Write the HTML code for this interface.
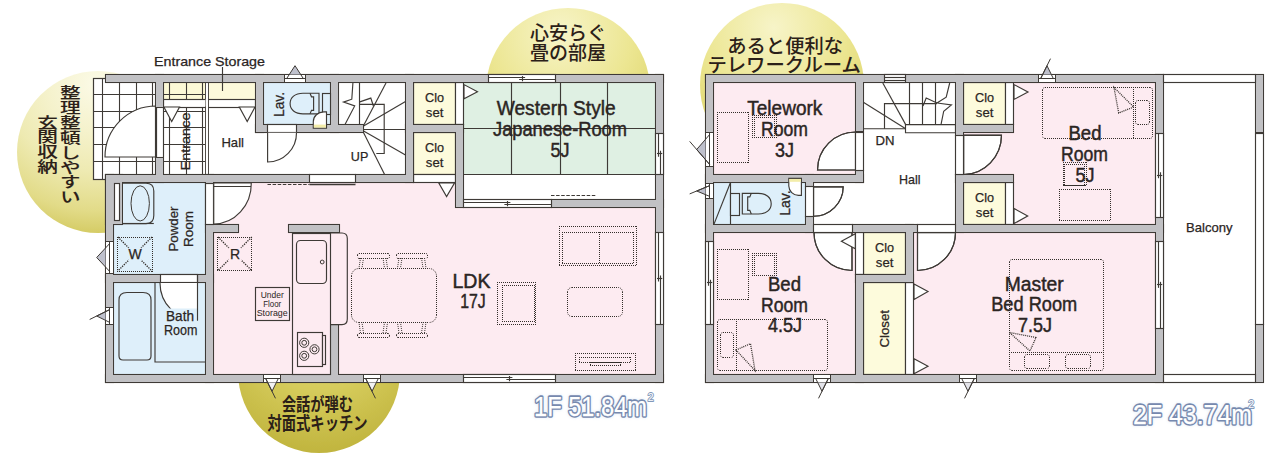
<!DOCTYPE html>
<html lang="ja"><head><meta charset="utf-8"><title>Floor plan 1F 2F</title>
<style>
html,body{margin:0;padding:0;background:#fff;}
body{width:1280px;height:457px;overflow:hidden;}
svg{display:block;}
.lat{font-family:"Liberation Sans","Noto Sans CJK JP",sans-serif;}
.jp{font-family:"Liberation Sans","Noto Sans CJK JP",sans-serif;}
</style></head><body>
<svg width="1280" height="457" viewBox="0 0 1280 457">
<rect width="1280" height="457" fill="#fff"/>
<defs>
<radialGradient id="g1" cx="0.48" cy="0.08" r="0.98"><stop offset="0" stop-color="#fbfae6"/><stop offset="0.3" stop-color="#f5f2cc"/><stop offset="0.55" stop-color="#eeeab2"/><stop offset="0.8" stop-color="#e2db88"/><stop offset="1" stop-color="#cfc556"/></radialGradient>
<radialGradient id="g2" cx="0.45" cy="0.15" r="0.8"><stop offset="0" stop-color="#f7f4c8"/><stop offset="0.55" stop-color="#ece692"/><stop offset="1" stop-color="#dcd366"/></radialGradient>
<radialGradient id="g3" cx="0.5" cy="0.18" r="0.85"><stop offset="0" stop-color="#e4db76"/><stop offset="0.5" stop-color="#d6cc5c"/><stop offset="1" stop-color="#bfb33c"/></radialGradient>
<filter id="soft" x="-10%" y="-10%" width="120%" height="120%"><feGaussianBlur stdDeviation="0.35"/></filter>
<filter id="glow" x="-10%" y="-30%" width="120%" height="160%"><feGaussianBlur stdDeviation="1.6"/></filter>
</defs>
<circle cx="98" cy="152" r="81" fill="url(#g1)" filter="url(#soft)"/>
<circle cx="568" cy="90" r="82" fill="url(#g2)" filter="url(#soft)"/>
<circle cx="782" cy="85" r="82" fill="url(#g2)" filter="url(#soft)"/>
<circle cx="319" cy="372" r="81" fill="url(#g3)" filter="url(#soft)"/>
<rect x="93.00" y="78.00" width="63.00" height="101.00" fill="#fff" />
<rect x="106.00" y="75.00" width="557.00" height="307.00" fill="#fff" />
<line x1="102.50" y1="78.00" x2="102.50" y2="179.00" stroke="#3e3a36" stroke-width="1.1" />
<line x1="119.50" y1="78.00" x2="119.50" y2="179.00" stroke="#3e3a36" stroke-width="1.1" />
<line x1="136.50" y1="78.00" x2="136.50" y2="179.00" stroke="#3e3a36" stroke-width="1.1" />
<line x1="152.50" y1="78.00" x2="152.50" y2="179.00" stroke="#3e3a36" stroke-width="1.1" />
<line x1="93.00" y1="94.50" x2="156.00" y2="94.50" stroke="#3e3a36" stroke-width="1.1" />
<line x1="93.00" y1="111.50" x2="156.00" y2="111.50" stroke="#3e3a36" stroke-width="1.1" />
<line x1="93.00" y1="127.50" x2="156.00" y2="127.50" stroke="#3e3a36" stroke-width="1.1" />
<line x1="93.00" y1="144.50" x2="156.00" y2="144.50" stroke="#3e3a36" stroke-width="1.1" />
<line x1="93.00" y1="161.50" x2="156.00" y2="161.50" stroke="#3e3a36" stroke-width="1.1" />
<rect x="93.50" y="78.50" width="63.00" height="101.00" fill="none" stroke="#3e3a36" stroke-width="1.2" />
<rect x="163.75" y="82.75" width="41.45" height="91.75" fill="#fff" />
<rect x="163.75" y="82.75" width="41.45" height="16.25" fill="#fcf9d6" />
<rect x="208.30" y="82.75" width="47.20" height="16.25" fill="#fdfadb" />
<line x1="169.50" y1="82.75" x2="169.50" y2="174.50" stroke="#3e3a36" stroke-width="1.1" />
<line x1="186.50" y1="82.75" x2="186.50" y2="174.50" stroke="#3e3a36" stroke-width="1.1" />
<line x1="202.50" y1="82.75" x2="202.50" y2="174.50" stroke="#3e3a36" stroke-width="1.1" />
<line x1="163.75" y1="94.50" x2="205.20" y2="94.50" stroke="#3e3a36" stroke-width="1.1" />
<line x1="163.75" y1="111.50" x2="205.20" y2="111.50" stroke="#3e3a36" stroke-width="1.1" />
<line x1="163.75" y1="127.50" x2="205.20" y2="127.50" stroke="#3e3a36" stroke-width="1.1" />
<line x1="163.75" y1="144.50" x2="205.20" y2="144.50" stroke="#3e3a36" stroke-width="1.1" />
<line x1="163.75" y1="161.50" x2="205.20" y2="161.50" stroke="#3e3a36" stroke-width="1.1" />
<rect x="163.50" y="99.50" width="92.00" height="8.00" fill="#fff" stroke="#3e3a36" stroke-width="1.15" />
<rect x="205.50" y="82.50" width="3.00" height="92.00" fill="#fff" stroke="#3e3a36" stroke-width="0.9" />
<rect x="205.60" y="99.50" width="2.40" height="7.00" fill="#fff" />
<path d="M156 157 L105 157 A51 51 0 0 1 156 106 Z" fill="#fff" stroke="#3e3a36" stroke-width="1.15" />
<line x1="155.50" y1="107.00" x2="155.50" y2="157.00" stroke="#3e3a36" stroke-width="1.15" />
<line x1="163.50" y1="107.00" x2="163.50" y2="157.00" stroke="#3e3a36" stroke-width="1.15" />
<path d="M163.90 107.00 L179.50 107.00 L171.70 121.50 Z" fill="#fff" stroke="#3e3a36" stroke-width="1.15" />
<path d="M239.30 107.00 L255.00 107.00 L247.20 121.50 Z" fill="#fff" stroke="#3e3a36" stroke-width="1.15" />
<rect x="122.00" y="182.75" width="83.50" height="91.75" fill="#deeffa" />
<rect x="113.75" y="182.75" width="9.25" height="91.75" fill="#deeffa" />
<rect x="113.75" y="282.75" width="91.75" height="91.75" fill="#deeffa" />
<rect x="213.75" y="182.75" width="441.75" height="191.75" fill="#fdebf1" />
<rect x="463.75" y="174.00" width="191.75" height="34.00" fill="#fff" />
<rect x="263.75" y="82.75" width="66.75" height="41.75" fill="#deeffa" />
<rect x="463.75" y="82.75" width="191.75" height="91.75" fill="#dff0e3" />
<line x1="511.50" y1="82.75" x2="511.50" y2="174.50" stroke="#3e3a36" stroke-width="1.15" />
<line x1="560.50" y1="82.75" x2="560.50" y2="174.50" stroke="#3e3a36" stroke-width="1.15" />
<line x1="607.50" y1="82.75" x2="607.50" y2="174.50" stroke="#3e3a36" stroke-width="1.15" />
<line x1="463.75" y1="128.50" x2="655.50" y2="128.50" stroke="#3e3a36" stroke-width="1.15" />
<line x1="463.75" y1="174.50" x2="655.50" y2="174.50" stroke="#3e3a36" stroke-width="1.15" />
<rect x="413.50" y="82.50" width="42.00" height="42.00" fill="#fdfbdc" stroke="#3e3a36" stroke-width="1.15" />
<rect x="413.50" y="132.50" width="42.00" height="42.00" fill="#fdfbdc" stroke="#3e3a36" stroke-width="1.15" />
<rect x="455.50" y="82.50" width="8.00" height="42.00" fill="#fff" stroke="#3e3a36" stroke-width="1.15" />
<rect x="413.50" y="174.50" width="42.00" height="8.00" fill="#fff" stroke="#3e3a36" stroke-width="1.15" />
<path d="M464.00 84.60 L464.00 98.80 L477.50 91.70 Z" fill="#fff" stroke="#3e3a36" stroke-width="1.15" />
<path d="M438.80 183.00 L454.50 183.00 L446.60 196.50 Z" fill="#fff" stroke="#3e3a36" stroke-width="1.15" />
<rect x="105.5" y="74.5" width="558" height="8" fill="#c1c1c4" stroke="#3e3a36" stroke-width="1.1"/>
<rect x="105.5" y="174.5" width="8" height="208" fill="#c1c1c4" stroke="#3e3a36" stroke-width="1.1"/>
<rect x="105.5" y="174.5" width="17" height="50" fill="#c1c1c4" stroke="#3e3a36" stroke-width="1.1"/>
<rect x="155.5" y="74.5" width="8" height="33" fill="#c1c1c4" stroke="#3e3a36" stroke-width="1.1"/>
<rect x="155.5" y="157.5" width="8" height="25" fill="#c1c1c4" stroke="#3e3a36" stroke-width="1.1"/>
<rect x="105.5" y="174.5" width="204" height="8" fill="#c1c1c4" stroke="#3e3a36" stroke-width="1.1"/>
<rect x="355.5" y="174.5" width="58" height="8" fill="#c1c1c4" stroke="#3e3a36" stroke-width="1.1"/>
<rect x="255.5" y="74.5" width="8" height="58" fill="#c1c1c4" stroke="#3e3a36" stroke-width="1.1"/>
<rect x="255.5" y="124.5" width="108" height="8" fill="#c1c1c4" stroke="#3e3a36" stroke-width="1.1"/>
<rect x="330.5" y="74.5" width="8" height="58" fill="#c1c1c4" stroke="#3e3a36" stroke-width="1.1"/>
<rect x="405.5" y="74.5" width="8" height="108" fill="#c1c1c4" stroke="#3e3a36" stroke-width="1.1"/>
<rect x="405.5" y="124.5" width="58" height="8" fill="#c1c1c4" stroke="#3e3a36" stroke-width="1.1"/>
<rect x="455.5" y="124.5" width="8" height="83" fill="#c1c1c4" stroke="#3e3a36" stroke-width="1.1"/>
<rect x="655.5" y="74.5" width="8" height="308" fill="#c1c1c4" stroke="#3e3a36" stroke-width="1.1"/>
<rect x="551.5" y="199.5" width="112" height="8" fill="#c1c1c4" stroke="#3e3a36" stroke-width="1.1"/>
<rect x="105.5" y="374.5" width="558" height="8" fill="#c1c1c4" stroke="#3e3a36" stroke-width="1.1"/>
<rect x="205.5" y="174.5" width="8" height="208" fill="#c1c1c4" stroke="#3e3a36" stroke-width="1.1"/>
<rect x="205.5" y="224.5" width="33" height="8" fill="#c1c1c4" stroke="#3e3a36" stroke-width="1.1"/>
<rect x="105.5" y="274.5" width="108" height="8" fill="#c1c1c4" stroke="#3e3a36" stroke-width="1.1"/>
<rect x="288.5" y="224.5" width="51" height="8" fill="#c1c1c4" stroke="#3e3a36" stroke-width="1.1"/>
<rect x="330.5" y="324.5" width="8" height="58" fill="#c1c1c4" stroke="#3e3a36" stroke-width="1.1"/>
<rect x="106" y="75" width="557" height="7" fill="#c1c1c4"/>
<rect x="106" y="175" width="7" height="207" fill="#c1c1c4"/>
<rect x="106" y="175" width="16" height="49" fill="#c1c1c4"/>
<rect x="156" y="75" width="7" height="32" fill="#c1c1c4"/>
<rect x="156" y="158" width="7" height="24" fill="#c1c1c4"/>
<rect x="106" y="175" width="203" height="7" fill="#c1c1c4"/>
<rect x="356" y="175" width="57" height="7" fill="#c1c1c4"/>
<rect x="256" y="75" width="7" height="57" fill="#c1c1c4"/>
<rect x="256" y="125" width="107" height="7" fill="#c1c1c4"/>
<rect x="331" y="75" width="7" height="57" fill="#c1c1c4"/>
<rect x="406" y="75" width="7" height="107" fill="#c1c1c4"/>
<rect x="406" y="125" width="57" height="7" fill="#c1c1c4"/>
<rect x="456" y="125" width="7" height="82" fill="#c1c1c4"/>
<rect x="656" y="75" width="7" height="307" fill="#c1c1c4"/>
<rect x="552" y="200" width="111" height="7" fill="#c1c1c4"/>
<rect x="106" y="375" width="557" height="7" fill="#c1c1c4"/>
<rect x="206" y="175" width="7" height="207" fill="#c1c1c4"/>
<rect x="206" y="225" width="32" height="7" fill="#c1c1c4"/>
<rect x="106" y="275" width="107" height="7" fill="#c1c1c4"/>
<rect x="289" y="225" width="50" height="7" fill="#c1c1c4"/>
<rect x="331" y="325" width="7" height="57" fill="#c1c1c4"/>
<rect x="309.50" y="174.50" width="46.00" height="8.00" fill="#fff" stroke="#3e3a36" stroke-width="1.15" />
<line x1="267.50" y1="184.50" x2="309.50" y2="184.50" stroke="#3e3a36" stroke-width="1.15" stroke-dasharray="3.5 1.6"/>
<line x1="309.50" y1="184.50" x2="355.50" y2="184.50" stroke="#3e3a36" stroke-width="1.3" />
<rect x="267.50" y="124.50" width="29.00" height="8.00" fill="#fff" stroke="#3e3a36" stroke-width="1.15" />
<path d="M267.6 132.75 L267.6 162 A29 29 0 0 0 296.5 132.75" fill="#fff" stroke="#3e3a36" stroke-width="1.15" />
<rect x="160.50" y="274.50" width="37.00" height="8.00" fill="#fff" stroke="#3e3a36" stroke-width="1.15" />
<rect x="114.50" y="183.50" width="5.00" height="37.00" fill="#fff" stroke="#3e3a36" stroke-width="1.15" />
<g transform="translate(295.00 74.50) rotate(0)"><rect x="-10.50" y="0" width="21.00" height="8" fill="#fff" stroke="#3e3a36" stroke-width="1"/><line x1="-10.50" y1="4.00" x2="10.50" y2="4.00" stroke="#3e3a36" stroke-width="1"/><path d="M-5.71 0 L0 -8.8 L5.71 0 Z" fill="#bfc1cd" stroke="none"/><path d="M-8.30 4.00 L0 -8.8 L8.30 4.00" fill="none" stroke="#3e3a36" stroke-width="1"/></g>
<rect x="488.50" y="74.50" width="67.00" height="8.00" fill="#fff" stroke="#3e3a36" stroke-width="1.15" />
<line x1="488.75" y1="77.50" x2="525.12" y2="77.50" stroke="#3e3a36" stroke-width="1.15" />
<line x1="519.12" y1="79.50" x2="555.50" y2="79.50" stroke="#3e3a36" stroke-width="1.15" />
<line x1="522.50" y1="76.00" x2="522.50" y2="81.25" stroke="#3e3a36" stroke-width="1.15" />
<rect x="463.50" y="199.50" width="88.00" height="8.00" fill="#fff" stroke="#3e3a36" stroke-width="1.15" />
<line x1="463.75" y1="202.50" x2="510.38" y2="202.50" stroke="#3e3a36" stroke-width="1.15" />
<line x1="504.38" y1="204.50" x2="551.00" y2="204.50" stroke="#3e3a36" stroke-width="1.15" />
<line x1="507.50" y1="201.00" x2="507.50" y2="206.25" stroke="#3e3a36" stroke-width="1.15" />
<rect x="463.50" y="374.50" width="92.00" height="8.00" fill="#fff" stroke="#3e3a36" stroke-width="1.15" />
<line x1="463.25" y1="377.50" x2="512.38" y2="377.50" stroke="#3e3a36" stroke-width="1.15" />
<line x1="506.38" y1="379.50" x2="555.50" y2="379.50" stroke="#3e3a36" stroke-width="1.15" />
<line x1="509.50" y1="376.00" x2="509.50" y2="381.25" stroke="#3e3a36" stroke-width="1.15" />
<g transform="translate(272.00 382.50) rotate(180)"><rect x="-8.50" y="0" width="17.00" height="8" fill="#fff" stroke="#3e3a36" stroke-width="1"/><line x1="-8.50" y1="4.00" x2="8.50" y2="4.00" stroke="#3e3a36" stroke-width="1"/><path d="M-4.33 0 L0 -8.8 L4.33 0 Z" fill="#f2f2f2" stroke="none"/><path d="M-6.30 4.00 L0 -8.8 L6.30 4.00" fill="none" stroke="#3e3a36" stroke-width="1"/><line x1="6.30" y1="4.00" x2="-3.47" y2="-15.84" stroke="#3e3a36" stroke-width="1"/></g>
<g transform="translate(372.00 382.50) rotate(180)"><rect x="-8.50" y="0" width="17.00" height="8" fill="#fff" stroke="#3e3a36" stroke-width="1"/><line x1="-8.50" y1="4.00" x2="8.50" y2="4.00" stroke="#3e3a36" stroke-width="1"/><path d="M-4.33 0 L0 -8.8 L4.33 0 Z" fill="#f2f2f2" stroke="none"/><path d="M-6.30 4.00 L0 -8.8 L6.30 4.00" fill="none" stroke="#3e3a36" stroke-width="1"/><line x1="6.30" y1="4.00" x2="-3.47" y2="-15.84" stroke="#3e3a36" stroke-width="1"/></g>
<rect x="655.50" y="133.50" width="8.00" height="41.00" fill="#fff" stroke="#3e3a36" stroke-width="1.15" />
<line x1="658.50" y1="133.00" x2="658.50" y2="156.75" stroke="#3e3a36" stroke-width="1.15" />
<line x1="660.50" y1="150.75" x2="660.50" y2="174.50" stroke="#3e3a36" stroke-width="1.15" />
<line x1="657.00" y1="153.50" x2="662.25" y2="153.50" stroke="#3e3a36" stroke-width="1.15" />
<rect x="655.50" y="232.50" width="8.00" height="92.00" fill="#fff" stroke="#3e3a36" stroke-width="1.15" />
<line x1="658.50" y1="232.50" x2="658.50" y2="281.50" stroke="#3e3a36" stroke-width="1.15" />
<line x1="660.50" y1="275.50" x2="660.50" y2="324.50" stroke="#3e3a36" stroke-width="1.15" />
<line x1="657.00" y1="278.50" x2="662.25" y2="278.50" stroke="#3e3a36" stroke-width="1.15" />
<line x1="551.00" y1="195.50" x2="596.00" y2="195.50" stroke="#3e3a36" stroke-width="1.15" stroke-dasharray="3.5 1.6"/>
<g transform="translate(105.50 257.50) rotate(-90)"><rect x="-16.00" y="0" width="32.00" height="8" fill="#fff" stroke="#3e3a36" stroke-width="1"/><line x1="-16.00" y1="4.00" x2="16.00" y2="4.00" stroke="#3e3a36" stroke-width="1"/><path d="M-9.49 0 L0 -8.8 L9.49 0 Z" fill="#bfc1cd" stroke="none"/><path d="M-13.80 4.00 L0 -8.8 L13.80 4.00" fill="none" stroke="#3e3a36" stroke-width="1"/></g>
<path d="M123 183.2 L146 183.2 Q153.8 183.2 153.8 191 L153.8 215.5 Q153.8 223.6 146 223.6 L123 223.6" fill="#deeffa" stroke="#3e3a36" stroke-width="1.15" />
<ellipse cx="140.2" cy="203.4" rx="9.2" ry="17.6" fill="#deeffa" stroke="#3e3a36" stroke-width="1"/>
<line x1="122.50" y1="223.50" x2="153.80" y2="223.50" stroke="#3e3a36" stroke-width="1.15" />
<line x1="117" y1="237.5" x2="153" y2="237.5" stroke="#332e2a" stroke-width="1" stroke-dasharray="1 1"/>
<line x1="117" y1="271.5" x2="153" y2="271.5" stroke="#332e2a" stroke-width="1" stroke-dasharray="1 1"/>
<line x1="117.5" y1="237" x2="117.5" y2="272" stroke="#332e2a" stroke-width="1" stroke-dasharray="1 1"/>
<line x1="152.5" y1="237" x2="152.5" y2="272" stroke="#332e2a" stroke-width="1" stroke-dasharray="1 1"/>
<path d="M117.8 237 L152 271 M152 237 L117.8 271" stroke="#332e2a" stroke-width="1.35" stroke-dasharray="1.3 1.1" fill="none"/>
<line x1="217" y1="237.5" x2="252" y2="237.5" stroke="#332e2a" stroke-width="1" stroke-dasharray="1 1"/>
<line x1="217" y1="270.5" x2="252" y2="270.5" stroke="#332e2a" stroke-width="1" stroke-dasharray="1 1"/>
<line x1="217.5" y1="237" x2="217.5" y2="271" stroke="#332e2a" stroke-width="1" stroke-dasharray="1 1"/>
<line x1="251.5" y1="237" x2="251.5" y2="271" stroke="#332e2a" stroke-width="1" stroke-dasharray="1 1"/>
<path d="M217.9 237 L251.8 270.6 M251.8 237 L217.9 270.6" stroke="#332e2a" stroke-width="1.35" stroke-dasharray="1.3 1.1" fill="none"/>
<rect x="128.50" y="247.50" width="13.00" height="13.50" fill="#deeffa" />
<rect x="228.50" y="247.50" width="13.00" height="13.50" fill="#fdebf1" />
<text class="lat" x="135.00" y="259.30" font-size="14" text-anchor="middle" fill="#2b2523" stroke="#2b2523" stroke-width="0.25" >W</text>
<text class="lat" x="235.00" y="259.30" font-size="14" text-anchor="middle" fill="#2b2523" stroke="#2b2523" stroke-width="0.25" >R</text>
<text class="lat" x="178.30" y="229.00" font-size="13.5" text-anchor="middle" fill="#2b2523" stroke="#2b2523" stroke-width="0.25" textLength="45.00" lengthAdjust="spacingAndGlyphs" transform="rotate(-90 178.30 229.00)" >Powder</text>
<text class="lat" x="193.00" y="229.00" font-size="13.5" text-anchor="middle" fill="#2b2523" stroke="#2b2523" stroke-width="0.25" textLength="36.00" lengthAdjust="spacingAndGlyphs" transform="rotate(-90 193.00 229.00)" >Room</text>
<rect x="205.50" y="183.50" width="8.00" height="41.00" fill="#fff" stroke="#3e3a36" stroke-width="1.15" />
<path d="M213.75 183 L251.3 183 A37.5 40.5 0 0 1 213.75 224 Z" fill="#fff" stroke="#3e3a36" stroke-width="1.15" />
<line x1="213.75" y1="186.50" x2="251.00" y2="186.50" stroke="#3e3a36" stroke-width="1.15" />
<path d="M119 300 Q119 292.5 127 292.5 L143 292.5 Q151 292.5 151 300 L151 356 Q151 360 147 360 L123 360 Q119 360 119 356 Z" fill="#deeffa" stroke="#3e3a36" stroke-width="1.15" />
<path d="M155 282.75 L155 362 L205.5 362" fill="none" stroke="#3e3a36" stroke-width="1.15" />
<line x1="114.00" y1="282.50" x2="205.50" y2="282.50" stroke="#3e3a36" stroke-width="1.15" />
<path d="M197.5 282.9 L160 282.9 A37.5 37.5 0 0 0 197.5 320.4 Z" fill="#fff" stroke="none" stroke-width="1.15" />
<path d="M160 282.9 A37.5 37.5 0 0 0 197.5 320.4" fill="none" stroke="#3e3a36" stroke-width="1.15" />
<rect x="163.50" y="308.50" width="33.50" height="13.00" fill="#deeffa" />
<line x1="197.50" y1="275.00" x2="197.50" y2="320.50" stroke="#3e3a36" stroke-width="1.15" />
<g transform="translate(105.50 316.00) rotate(-90)"><rect x="-8.50" y="0" width="17.00" height="8" fill="#fff" stroke="#3e3a36" stroke-width="1"/><line x1="-8.50" y1="4.00" x2="8.50" y2="4.00" stroke="#3e3a36" stroke-width="1"/><path d="M-4.33 0 L0 -8.8 L4.33 0 Z" fill="#bfc1cd" stroke="none"/><path d="M-6.30 4.00 L0 -8.8 L6.30 4.00" fill="none" stroke="#3e3a36" stroke-width="1"/><line x1="6.30" y1="4.00" x2="-3.47" y2="-15.84" stroke="#3e3a36" stroke-width="1"/></g>
<text class="lat" x="180.00" y="320.50" font-size="14.5" text-anchor="middle" fill="#2b2523" stroke="#2b2523" stroke-width="0.25" textLength="28.00" lengthAdjust="spacingAndGlyphs" >Bath</text>
<text class="lat" x="180.80" y="335.20" font-size="14.5" text-anchor="middle" fill="#2b2523" stroke="#2b2523" stroke-width="0.25" textLength="33.50" lengthAdjust="spacingAndGlyphs" >Room</text>
<rect x="255.50" y="287.50" width="34.00" height="33.00" fill="#fdebf1" stroke="#3e3a36" stroke-width="1.15" />
<text class="lat" x="272.20" y="297.60" font-size="8.6" text-anchor="middle" fill="#2b2523" textLength="23.00" lengthAdjust="spacingAndGlyphs" >Under</text>
<text class="lat" x="272.20" y="306.80" font-size="8.6" text-anchor="middle" fill="#2b2523" textLength="18.00" lengthAdjust="spacingAndGlyphs" >Floor</text>
<text class="lat" x="272.20" y="316.20" font-size="8.6" text-anchor="middle" fill="#2b2523" textLength="31.00" lengthAdjust="spacingAndGlyphs" >Storage</text>
<path d="M330.5 233 L342 233 Q347.3 233 347.3 238.5 L347.3 319 Q347.3 324.6 342 324.6 L330.5 324.6" fill="#fdebf1" stroke="#3e3a36" stroke-width="1.15" />
<rect x="292.50" y="233.50" width="38.00" height="141.00" fill="#fdebf1" stroke="#3e3a36" stroke-width="1.15" />
<rect x="296.50" y="240.50" width="30.00" height="43.00" fill="#fdebf1" stroke="#3e3a36" stroke-width="1.15" rx="4"/>
<circle cx="322.2" cy="262" r="1.9" fill="#fdebf1" stroke="#3e3a36" stroke-width="1"/>
<rect x="297.50" y="332.50" width="25.00" height="34.00" fill="#fdebf1" stroke="#3e3a36" stroke-width="1.15" />
<rect x="322.50" y="335.50" width="3.00" height="29.00" fill="#fdebf1" stroke="#3e3a36" stroke-width="1.15" />
<circle cx="304.2" cy="342.8" r="4.6" fill="none" stroke="#3e3a36" stroke-width="1"/>
<circle cx="304.2" cy="342.8" r="2.4" fill="none" stroke="#3e3a36" stroke-width="1"/>
<circle cx="314.5" cy="349.3" r="4.6" fill="none" stroke="#3e3a36" stroke-width="1"/>
<circle cx="314.5" cy="349.3" r="2.4" fill="none" stroke="#3e3a36" stroke-width="1"/>
<circle cx="304.2" cy="355.8" r="4.6" fill="none" stroke="#3e3a36" stroke-width="1"/>
<circle cx="304.2" cy="355.8" r="2.4" fill="none" stroke="#3e3a36" stroke-width="1"/>
<line x1="359" y1="268.5" x2="429" y2="268.5" stroke="#332e2a" stroke-width="1" stroke-dasharray="1 1"/>
<line x1="359" y1="322.5" x2="429" y2="322.5" stroke="#332e2a" stroke-width="1" stroke-dasharray="1 1"/>
<line x1="351.5" y1="276" x2="351.5" y2="315" stroke="#332e2a" stroke-width="1" stroke-dasharray="1 1"/>
<line x1="436.5" y1="276" x2="436.5" y2="315" stroke="#332e2a" stroke-width="1" stroke-dasharray="1 1"/>
<path d="M351.5 276 A7.5 7.5 0 0 1 359 268.5 M429 268.5 A7.5 7.5 0 0 1 436.5 276 M436.5 315 A7.5 7.5 0 0 1 429 322.5 M359 322.5 A7.5 7.5 0 0 1 351.5 315" fill="none" stroke="#332e2a" stroke-width="1" stroke-dasharray="1 1"/>
<line x1="359" y1="253.5" x2="388" y2="253.5" stroke="#332e2a" stroke-width="1" stroke-dasharray="1 1"/>
<line x1="359" y1="258.5" x2="388" y2="258.5" stroke="#332e2a" stroke-width="1" stroke-dasharray="1 1"/>
<line x1="357.5" y1="255" x2="357.5" y2="257" stroke="#332e2a" stroke-width="1" stroke-dasharray="1 1"/>
<line x1="389.5" y1="255" x2="389.5" y2="257" stroke="#332e2a" stroke-width="1" stroke-dasharray="1 1"/>
<path d="M357.5 255 A1.5 1.5 0 0 1 359 253.5 M388 253.5 A1.5 1.5 0 0 1 389.5 255 M389.5 257 A1.5 1.5 0 0 1 388 258.5 M359 258.5 A1.5 1.5 0 0 1 357.5 257" fill="none" stroke="#332e2a" stroke-width="1" stroke-dasharray="1 1"/>
<path d="M360.5 258.0 L359.0 268 M363.5 258.0 L362.0 268 M386 258.0 L387.5 268 M383 258.0 L384.5 268" stroke="#3e3a36" stroke-width="1" stroke-dasharray="1 1" fill="none"/>
<line x1="398" y1="253.5" x2="426" y2="253.5" stroke="#332e2a" stroke-width="1" stroke-dasharray="1 1"/>
<line x1="398" y1="258.5" x2="426" y2="258.5" stroke="#332e2a" stroke-width="1" stroke-dasharray="1 1"/>
<line x1="396.5" y1="255" x2="396.5" y2="257" stroke="#332e2a" stroke-width="1" stroke-dasharray="1 1"/>
<line x1="427.5" y1="255" x2="427.5" y2="257" stroke="#332e2a" stroke-width="1" stroke-dasharray="1 1"/>
<path d="M396.5 255 A1.5 1.5 0 0 1 398 253.5 M426 253.5 A1.5 1.5 0 0 1 427.5 255 M427.5 257 A1.5 1.5 0 0 1 426 258.5 M398 258.5 A1.5 1.5 0 0 1 396.5 257" fill="none" stroke="#332e2a" stroke-width="1" stroke-dasharray="1 1"/>
<path d="M399 258.0 L397.5 268 M402 258.0 L400.5 268 M424.5 258.0 L426.0 268 M421.5 258.0 L423.0 268" stroke="#3e3a36" stroke-width="1" stroke-dasharray="1 1" fill="none"/>
<line x1="359" y1="333.5" x2="388" y2="333.5" stroke="#332e2a" stroke-width="1" stroke-dasharray="1 1"/>
<line x1="359" y1="337.5" x2="388" y2="337.5" stroke="#332e2a" stroke-width="1" stroke-dasharray="1 1"/>
<line x1="357.5" y1="335" x2="357.5" y2="336" stroke="#332e2a" stroke-width="1" stroke-dasharray="1 1"/>
<line x1="389.5" y1="335" x2="389.5" y2="336" stroke="#332e2a" stroke-width="1" stroke-dasharray="1 1"/>
<path d="M357.5 335 A1.5 1.5 0 0 1 359 333.5 M388 333.5 A1.5 1.5 0 0 1 389.5 335 M389.5 336 A1.5 1.5 0 0 1 388 337.5 M359 337.5 A1.5 1.5 0 0 1 357.5 336" fill="none" stroke="#332e2a" stroke-width="1" stroke-dasharray="1 1"/>
<path d="M360.5 333.0 L359.0 322.5 M363.5 333.0 L362.0 322.5 M386 333.0 L387.5 322.5 M383 333.0 L384.5 322.5" stroke="#3e3a36" stroke-width="1" stroke-dasharray="1 1" fill="none"/>
<line x1="398" y1="333.5" x2="426" y2="333.5" stroke="#332e2a" stroke-width="1" stroke-dasharray="1 1"/>
<line x1="398" y1="337.5" x2="426" y2="337.5" stroke="#332e2a" stroke-width="1" stroke-dasharray="1 1"/>
<line x1="396.5" y1="335" x2="396.5" y2="336" stroke="#332e2a" stroke-width="1" stroke-dasharray="1 1"/>
<line x1="427.5" y1="335" x2="427.5" y2="336" stroke="#332e2a" stroke-width="1" stroke-dasharray="1 1"/>
<path d="M396.5 335 A1.5 1.5 0 0 1 398 333.5 M426 333.5 A1.5 1.5 0 0 1 427.5 335 M427.5 336 A1.5 1.5 0 0 1 426 337.5 M398 337.5 A1.5 1.5 0 0 1 396.5 336" fill="none" stroke="#332e2a" stroke-width="1" stroke-dasharray="1 1"/>
<path d="M399 333.0 L397.5 322.5 M402 333.0 L400.5 322.5 M424.5 333.0 L426.0 322.5 M421.5 333.0 L423.0 322.5" stroke="#3e3a36" stroke-width="1" stroke-dasharray="1 1" fill="none"/>
<line x1="559" y1="226.5" x2="637" y2="226.5" stroke="#332e2a" stroke-width="1" stroke-dasharray="1 1"/>
<line x1="559" y1="265.5" x2="637" y2="265.5" stroke="#332e2a" stroke-width="1" stroke-dasharray="1 1"/>
<line x1="559.5" y1="226" x2="559.5" y2="266" stroke="#332e2a" stroke-width="1" stroke-dasharray="1 1"/>
<line x1="636.5" y1="226" x2="636.5" y2="266" stroke="#332e2a" stroke-width="1" stroke-dasharray="1 1"/>
<line x1="562" y1="232.5" x2="634" y2="232.5" stroke="#332e2a" stroke-width="1" stroke-dasharray="1 1"/>
<line x1="562" y1="263.5" x2="634" y2="263.5" stroke="#332e2a" stroke-width="1" stroke-dasharray="1 1"/>
<line x1="562.5" y1="232" x2="562.5" y2="264" stroke="#332e2a" stroke-width="1" stroke-dasharray="1 1"/>
<line x1="633.5" y1="232" x2="633.5" y2="264" stroke="#332e2a" stroke-width="1" stroke-dasharray="1 1"/>
<line x1="599.5" y1="232" x2="599.5" y2="264" stroke="#332e2a" stroke-width="1" stroke-dasharray="1 1"/>
<line x1="572" y1="287.5" x2="618" y2="287.5" stroke="#332e2a" stroke-width="1" stroke-dasharray="1 1"/>
<line x1="572" y1="316.5" x2="618" y2="316.5" stroke="#332e2a" stroke-width="1" stroke-dasharray="1 1"/>
<line x1="567.5" y1="292" x2="567.5" y2="312" stroke="#332e2a" stroke-width="1" stroke-dasharray="1 1"/>
<line x1="622.5" y1="292" x2="622.5" y2="312" stroke="#332e2a" stroke-width="1" stroke-dasharray="1 1"/>
<path d="M567.5 292 A4.5 4.5 0 0 1 572 287.5 M618 287.5 A4.5 4.5 0 0 1 622.5 292 M622.5 312 A4.5 4.5 0 0 1 618 316.5 M572 316.5 A4.5 4.5 0 0 1 567.5 312" fill="none" stroke="#332e2a" stroke-width="1" stroke-dasharray="1 1"/>
<line x1="497" y1="282.5" x2="536" y2="282.5" stroke="#332e2a" stroke-width="1" stroke-dasharray="1 1"/>
<line x1="497" y1="324.5" x2="536" y2="324.5" stroke="#332e2a" stroke-width="1" stroke-dasharray="1 1"/>
<line x1="497.5" y1="282" x2="497.5" y2="325" stroke="#332e2a" stroke-width="1" stroke-dasharray="1 1"/>
<line x1="535.5" y1="282" x2="535.5" y2="325" stroke="#332e2a" stroke-width="1" stroke-dasharray="1 1"/>
<line x1="502" y1="285.5" x2="535" y2="285.5" stroke="#332e2a" stroke-width="1" stroke-dasharray="1 1"/>
<line x1="502" y1="321.5" x2="535" y2="321.5" stroke="#332e2a" stroke-width="1" stroke-dasharray="1 1"/>
<line x1="502.5" y1="285" x2="502.5" y2="322" stroke="#332e2a" stroke-width="1" stroke-dasharray="1 1"/>
<line x1="534.5" y1="285" x2="534.5" y2="322" stroke="#332e2a" stroke-width="1" stroke-dasharray="1 1"/>
<line x1="575" y1="353.5" x2="636" y2="353.5" stroke="#332e2a" stroke-width="1" stroke-dasharray="1 1"/>
<line x1="575" y1="370.5" x2="636" y2="370.5" stroke="#332e2a" stroke-width="1" stroke-dasharray="1 1"/>
<line x1="575.5" y1="353" x2="575.5" y2="371" stroke="#332e2a" stroke-width="1" stroke-dasharray="1 1"/>
<line x1="635.5" y1="353" x2="635.5" y2="371" stroke="#332e2a" stroke-width="1" stroke-dasharray="1 1"/>
<line x1="579" y1="357.5" x2="631" y2="357.5" stroke="#332e2a" stroke-width="1" stroke-dasharray="1 1"/>
<line x1="579" y1="362.5" x2="631" y2="362.5" stroke="#332e2a" stroke-width="1" stroke-dasharray="1 1"/>
<line x1="579.5" y1="357" x2="579.5" y2="363" stroke="#332e2a" stroke-width="1" stroke-dasharray="1 1"/>
<line x1="630.5" y1="357" x2="630.5" y2="363" stroke="#332e2a" stroke-width="1" stroke-dasharray="1 1"/>
<line x1="590" y1="362.5" x2="621" y2="362.5" stroke="#332e2a" stroke-width="1" stroke-dasharray="1 1"/>
<line x1="590" y1="365.5" x2="621" y2="365.5" stroke="#332e2a" stroke-width="1" stroke-dasharray="1 1"/>
<line x1="590.5" y1="362" x2="590.5" y2="366" stroke="#332e2a" stroke-width="1" stroke-dasharray="1 1"/>
<line x1="620.5" y1="362" x2="620.5" y2="366" stroke="#332e2a" stroke-width="1" stroke-dasharray="1 1"/>
<text class="lat" x="471.50" y="288.00" font-size="19.5" text-anchor="middle" fill="#2b2523" stroke="#2b2523" stroke-width="0.45" textLength="38.00" lengthAdjust="spacingAndGlyphs" >LDK</text>
<text class="lat" x="473.00" y="308.20" font-size="19.5" text-anchor="middle" fill="#2b2523" stroke="#2b2523" stroke-width="0.45" textLength="25.50" lengthAdjust="spacingAndGlyphs" >17J</text>
<text class="lat" x="556.20" y="114.60" font-size="19.5" text-anchor="middle" fill="#2b2523" stroke="#2b2523" stroke-width="0.45" textLength="119.00" lengthAdjust="spacingAndGlyphs" >Western Style</text>
<text class="lat" x="560.00" y="136.10" font-size="19.5" text-anchor="middle" fill="#2b2523" stroke="#2b2523" stroke-width="0.45" textLength="134.00" lengthAdjust="spacingAndGlyphs" >Japanese-Room</text>
<text class="lat" x="560.00" y="157.30" font-size="19.5" text-anchor="middle" fill="#2b2523" stroke="#2b2523" stroke-width="0.45" textLength="19.00" lengthAdjust="spacingAndGlyphs" >5J</text>
<text class="lat" x="434.60" y="102.00" font-size="13.5" text-anchor="middle" fill="#2b2523" stroke="#2b2523" stroke-width="0.25" textLength="19.00" lengthAdjust="spacingAndGlyphs" >Clo</text>
<text class="lat" x="434.60" y="117.00" font-size="13.5" text-anchor="middle" fill="#2b2523" stroke="#2b2523" stroke-width="0.25" textLength="17.50" lengthAdjust="spacingAndGlyphs" >set</text>
<text class="lat" x="434.60" y="152.00" font-size="13.5" text-anchor="middle" fill="#2b2523" stroke="#2b2523" stroke-width="0.25" textLength="19.00" lengthAdjust="spacingAndGlyphs" >Clo</text>
<text class="lat" x="434.60" y="167.00" font-size="13.5" text-anchor="middle" fill="#2b2523" stroke="#2b2523" stroke-width="0.25" textLength="17.50" lengthAdjust="spacingAndGlyphs" >set</text>
<text class="lat" x="232.70" y="146.80" font-size="13.5" text-anchor="middle" fill="#2b2523" stroke="#2b2523" stroke-width="0.25" textLength="22.50" lengthAdjust="spacingAndGlyphs" >Hall</text>
<text class="lat" x="359.60" y="161.20" font-size="13.5" text-anchor="middle" fill="#2b2523" stroke="#2b2523" stroke-width="0.25" textLength="17.50" lengthAdjust="spacingAndGlyphs" >UP</text>
<text class="lat" x="209.50" y="65.50" font-size="13" text-anchor="middle" fill="#2b2523" stroke="#2b2523" stroke-width="0.25" textLength="111.00" lengthAdjust="spacingAndGlyphs" >Entrance Storage</text>
<line x1="222.50" y1="67.00" x2="222.50" y2="91.00" stroke="#3e3a36" stroke-width="1.15" />
<text class="lat" x="190.30" y="141.50" font-size="13" text-anchor="middle" fill="#2b2523" stroke="#2b2523" stroke-width="0.25" textLength="58.00" lengthAdjust="spacingAndGlyphs" transform="rotate(-90 190.30 141.50)" >Entrance</text>
<text class="lat" x="284.00" y="104.50" font-size="14" text-anchor="middle" fill="#2b2523" stroke="#2b2523" stroke-width="0.25" textLength="25.00" lengthAdjust="spacingAndGlyphs" transform="rotate(-90 284.00 104.50)" >Lav.</text>
<path d="M319.00 93.20 L303.00 93.20 C295.00 93.20 290.10 97.50 290.10 103.55 C290.10 109.60 295.00 113.90 303.00 113.90 L319.00 113.90 Z" fill="#deeffa" stroke="#3e3a36" stroke-width="1.15" />
<path d="M310.00 93.20 L311.50 96.80 L313.60 96.80 L313.60 110.30 L311.50 110.30 L310.00 113.90" fill="none" stroke="#3e3a36" stroke-width="1.15" />
<rect x="322.50" y="93.50" width="8.00" height="21.00" fill="#deeffa" stroke="#3e3a36" stroke-width="1.15" />
<path d="M313.3 128.1 L313.3 121.5 A10.5 9.6 0 0 1 323.8 111.9 L326.5 111.9 L326.5 128.1 Z" fill="#fff" stroke="#3e3a36" stroke-width="1.15" />
<rect x="313.80" y="124.60" width="12.20" height="3.00" fill="#f3edaa" />
<line x1="363.60" y1="125.60" x2="386.00" y2="83.00" stroke="#3e3a36" stroke-width="1.15" />
<line x1="363.60" y1="126.00" x2="405.50" y2="101.50" stroke="#3e3a36" stroke-width="1.15" />
<line x1="363.60" y1="129.50" x2="405.50" y2="129.50" stroke="#3e3a36" stroke-width="1.15" />
<line x1="363.60" y1="131.00" x2="405.50" y2="155.00" stroke="#3e3a36" stroke-width="1.15" />
<line x1="363.60" y1="132.70" x2="384.60" y2="174.50" stroke="#3e3a36" stroke-width="1.15" />
<line x1="359.50" y1="83.00" x2="359.50" y2="124.50" stroke="#3e3a36" stroke-width="1.15" />
<path d="M359.1 104.4 L384.2 104.4 L384.2 153.5 L376.3 153.5" fill="none" stroke="#3e3a36" stroke-width="1.15" />
<path d="M352.9 83 L351.8 99.2 L343.5 102.1 L354.7 105.9 L345 124.5" fill="none" stroke="#3e3a36" stroke-width="1.15" />
<path d="M359.1 102.1 L370.8 98.1 L373.4 106" fill="none" stroke="#3e3a36" stroke-width="1.15" />
<rect x="706.00" y="75.00" width="457.00" height="307.00" fill="#fff" />
<rect x="1163.00" y="75.00" width="100.00" height="307.00" fill="#fff" />
<rect x="713.75" y="82.75" width="141.75" height="91.75" fill="#fdebf1" />
<rect x="713.75" y="182.75" width="91.75" height="41.75" fill="#deeffa" />
<rect x="713.75" y="232.75" width="141.75" height="141.75" fill="#fdebf1" />
<rect x="913.75" y="232.75" width="241.75" height="141.75" fill="#fdebf1" />
<rect x="1013.75" y="82.75" width="141.75" height="141.75" fill="#fdebf1" />
<rect x="963.75" y="132.75" width="50.25" height="41.75" fill="#fdebf1" />
<rect x="963.50" y="82.50" width="42.00" height="42.00" fill="#fdfbdc" stroke="#3e3a36" stroke-width="1.15" />
<rect x="1005.50" y="82.50" width="8.00" height="42.00" fill="#fff" stroke="#3e3a36" stroke-width="1.15" />
<rect x="963.50" y="182.50" width="42.00" height="42.00" fill="#fdfbdc" stroke="#3e3a36" stroke-width="1.15" />
<rect x="1005.50" y="182.50" width="8.00" height="42.00" fill="#fff" stroke="#3e3a36" stroke-width="1.15" />
<rect x="863.50" y="232.50" width="42.00" height="42.00" fill="#fdfbdc" stroke="#3e3a36" stroke-width="1.15" />
<rect x="855.50" y="232.50" width="8.00" height="42.00" fill="#fff" stroke="#3e3a36" stroke-width="1.15" />
<rect x="863.50" y="282.50" width="42.00" height="92.00" fill="#fdfbdc" stroke="#3e3a36" stroke-width="1.15" />
<rect x="905.50" y="282.50" width="8.00" height="92.00" fill="#fff" stroke="#3e3a36" stroke-width="1.15" />
<path d="M855.5 170 L817.5 170 A38 38 0 0 1 855.5 132 Z" fill="#fff" stroke="#3e3a36" stroke-width="1.15" />
<path d="M852 232.75 L852 270.5 A38 38 0 0 1 814 232.75 Z" fill="#fff" stroke="#3e3a36" stroke-width="1.15" />
<path d="M917.5 232.75 L917.5 270.5 A38 38 0 0 0 955.5 232.75 Z" fill="#fff" stroke="#3e3a36" stroke-width="1.15" />
<path d="M963.75 135 L1001.5 135 A38 39.5 0 0 1 963.75 174.5 Z" fill="#fff" stroke="#3e3a36" stroke-width="1.15" />
<path d="M813.6 186.8 L843.2 186.8 A29.5 29.5 0 0 1 813.6 216.2 Z" fill="#fff" stroke="#3e3a36" stroke-width="1.15" />
<rect x="705.5" y="74.5" width="458" height="8" fill="#c1c1c4" stroke="#3e3a36" stroke-width="1.1"/>
<rect x="705.5" y="74.5" width="8" height="308" fill="#c1c1c4" stroke="#3e3a36" stroke-width="1.1"/>
<rect x="705.5" y="374.5" width="458" height="8" fill="#c1c1c4" stroke="#3e3a36" stroke-width="1.1"/>
<rect x="855.5" y="74.5" width="8" height="57" fill="#c1c1c4" stroke="#3e3a36" stroke-width="1.1"/>
<rect x="855.5" y="170.5" width="8" height="12" fill="#c1c1c4" stroke="#3e3a36" stroke-width="1.1"/>
<rect x="705.5" y="174.5" width="158" height="8" fill="#c1c1c4" stroke="#3e3a36" stroke-width="1.1"/>
<rect x="805.5" y="174.5" width="8" height="12" fill="#c1c1c4" stroke="#3e3a36" stroke-width="1.1"/>
<rect x="805.5" y="216.5" width="8" height="16" fill="#c1c1c4" stroke="#3e3a36" stroke-width="1.1"/>
<rect x="705.5" y="224.5" width="108" height="8" fill="#c1c1c4" stroke="#3e3a36" stroke-width="1.1"/>
<rect x="852.5" y="224.5" width="65" height="8" fill="#c1c1c4" stroke="#3e3a36" stroke-width="1.1"/>
<rect x="905.5" y="224.5" width="8" height="58" fill="#c1c1c4" stroke="#3e3a36" stroke-width="1.1"/>
<rect x="855.5" y="274.5" width="58" height="8" fill="#c1c1c4" stroke="#3e3a36" stroke-width="1.1"/>
<rect x="855.5" y="274.5" width="8" height="108" fill="#c1c1c4" stroke="#3e3a36" stroke-width="1.1"/>
<rect x="955.5" y="74.5" width="8" height="61" fill="#c1c1c4" stroke="#3e3a36" stroke-width="1.1"/>
<rect x="955.5" y="174.5" width="8" height="58" fill="#c1c1c4" stroke="#3e3a36" stroke-width="1.1"/>
<rect x="955.5" y="124.5" width="58" height="8" fill="#c1c1c4" stroke="#3e3a36" stroke-width="1.1"/>
<rect x="955.5" y="174.5" width="58" height="8" fill="#c1c1c4" stroke="#3e3a36" stroke-width="1.1"/>
<rect x="955.5" y="224.5" width="208" height="8" fill="#c1c1c4" stroke="#3e3a36" stroke-width="1.1"/>
<rect x="1155.5" y="74.5" width="8" height="308" fill="#c1c1c4" stroke="#3e3a36" stroke-width="1.1"/>
<rect x="1255.5" y="74.5" width="8" height="58" fill="#c1c1c4" stroke="#3e3a36" stroke-width="1.1"/>
<rect x="1255.5" y="324.5" width="8" height="58" fill="#c1c1c4" stroke="#3e3a36" stroke-width="1.1"/>
<rect x="706" y="75" width="457" height="7" fill="#c1c1c4"/>
<rect x="706" y="75" width="7" height="307" fill="#c1c1c4"/>
<rect x="706" y="375" width="457" height="7" fill="#c1c1c4"/>
<rect x="856" y="75" width="7" height="56" fill="#c1c1c4"/>
<rect x="856" y="171" width="7" height="11" fill="#c1c1c4"/>
<rect x="706" y="175" width="157" height="7" fill="#c1c1c4"/>
<rect x="806" y="175" width="7" height="11" fill="#c1c1c4"/>
<rect x="806" y="217" width="7" height="15" fill="#c1c1c4"/>
<rect x="706" y="225" width="107" height="7" fill="#c1c1c4"/>
<rect x="853" y="225" width="64" height="7" fill="#c1c1c4"/>
<rect x="906" y="225" width="7" height="57" fill="#c1c1c4"/>
<rect x="856" y="275" width="57" height="7" fill="#c1c1c4"/>
<rect x="856" y="275" width="7" height="107" fill="#c1c1c4"/>
<rect x="956" y="75" width="7" height="60" fill="#c1c1c4"/>
<rect x="956" y="175" width="7" height="57" fill="#c1c1c4"/>
<rect x="956" y="125" width="57" height="7" fill="#c1c1c4"/>
<rect x="956" y="175" width="57" height="7" fill="#c1c1c4"/>
<rect x="956" y="225" width="207" height="7" fill="#c1c1c4"/>
<rect x="1156" y="75" width="7" height="307" fill="#c1c1c4"/>
<rect x="1256" y="75" width="7" height="57" fill="#c1c1c4"/>
<rect x="1256" y="325" width="7" height="57" fill="#c1c1c4"/>
<rect x="1163.50" y="74.50" width="92.00" height="8.00" fill="#fff" stroke="#3e3a36" stroke-width="1.15" />
<rect x="1163.50" y="374.50" width="92.00" height="8.00" fill="#fff" stroke="#3e3a36" stroke-width="1.15" />
<rect x="1255.50" y="133.50" width="8.00" height="191.00" fill="#fff" stroke="#3e3a36" stroke-width="1.15" />
<rect x="855.50" y="132.50" width="8.00" height="38.00" fill="#fff" stroke="#3e3a36" stroke-width="1.15" />
<rect x="955.50" y="135.50" width="8.00" height="39.00" fill="#fff" stroke="#3e3a36" stroke-width="1.15" />
<rect x="813.50" y="224.50" width="39.00" height="8.00" fill="#fff" stroke="#3e3a36" stroke-width="1.15" />
<rect x="917.50" y="224.50" width="38.00" height="8.00" fill="#fff" stroke="#3e3a36" stroke-width="1.15" />
<rect x="805.50" y="186.50" width="8.00" height="30.00" fill="#fff" stroke="#3e3a36" stroke-width="1.15" />
<rect x="884.50" y="74.50" width="21.00" height="8.00" fill="#fff" stroke="#3e3a36" stroke-width="1.15" />
<line x1="884.30" y1="77.50" x2="905.80" y2="77.50" stroke="#3e3a36" stroke-width="1.15" />
<line x1="884.30" y1="80.50" x2="905.80" y2="80.50" stroke="#3e3a36" stroke-width="1.15" />
<g transform="translate(1047.00 74.50) rotate(0)"><rect x="-8.50" y="0" width="17.00" height="8" fill="#fff" stroke="#3e3a36" stroke-width="1"/><line x1="-8.50" y1="4.00" x2="8.50" y2="4.00" stroke="#3e3a36" stroke-width="1"/><path d="M-4.33 0 L0 -8.8 L4.33 0 Z" fill="#bfc1cd" stroke="none"/><path d="M-6.30 4.00 L0 -8.8 L6.30 4.00" fill="none" stroke="#3e3a36" stroke-width="1"/><line x1="-6.30" y1="4.00" x2="3.47" y2="-15.84" stroke="#3e3a36" stroke-width="1"/></g>
<g transform="translate(822.00 382.50) rotate(180)"><rect x="-8.50" y="0" width="17.00" height="8" fill="#fff" stroke="#3e3a36" stroke-width="1"/><line x1="-8.50" y1="4.00" x2="8.50" y2="4.00" stroke="#3e3a36" stroke-width="1"/><path d="M-4.33 0 L0 -8.8 L4.33 0 Z" fill="#e4e4ea" stroke="none"/><path d="M-6.30 4.00 L0 -8.8 L6.30 4.00" fill="none" stroke="#3e3a36" stroke-width="1"/><line x1="-6.30" y1="4.00" x2="3.47" y2="-15.84" stroke="#3e3a36" stroke-width="1"/></g>
<g transform="translate(968.00 382.50) rotate(180)"><rect x="-8.50" y="0" width="17.00" height="8" fill="#fff" stroke="#3e3a36" stroke-width="1"/><line x1="-8.50" y1="4.00" x2="8.50" y2="4.00" stroke="#3e3a36" stroke-width="1"/><path d="M-4.33 0 L0 -8.8 L4.33 0 Z" fill="#e4e4ea" stroke="none"/><path d="M-6.30 4.00 L0 -8.8 L6.30 4.00" fill="none" stroke="#3e3a36" stroke-width="1"/><line x1="-6.30" y1="4.00" x2="3.47" y2="-15.84" stroke="#3e3a36" stroke-width="1"/></g>
<g transform="translate(705.50 149.50) rotate(-90)"><rect x="-17.00" y="0" width="34.00" height="8" fill="#fff" stroke="#3e3a36" stroke-width="1"/><line x1="-17.00" y1="4.00" x2="17.00" y2="4.00" stroke="#3e3a36" stroke-width="1"/><path d="M-10.18 0 L0 -8.8 L10.18 0 Z" fill="#bfc1cd" stroke="none"/><path d="M-14.80 4.00 L0 -8.8 L14.80 4.00" fill="none" stroke="#3e3a36" stroke-width="1"/><line x1="-14.80" y1="4.00" x2="8.14" y2="-15.84" stroke="#3e3a36" stroke-width="1"/></g>
<g transform="translate(705.50 191.00) rotate(-90)"><rect x="-7.50" y="0" width="15.00" height="8" fill="#fff" stroke="#3e3a36" stroke-width="1"/><line x1="-7.50" y1="4.00" x2="7.50" y2="4.00" stroke="#3e3a36" stroke-width="1"/><path d="M-3.64 0 L0 -8.8 L3.64 0 Z" fill="#bfc1cd" stroke="none"/><path d="M-5.30 4.00 L0 -8.8 L5.30 4.00" fill="none" stroke="#3e3a36" stroke-width="1"/><line x1="5.30" y1="4.00" x2="-2.92" y2="-15.84" stroke="#3e3a36" stroke-width="1"/></g>
<rect x="705.50" y="241.50" width="8.00" height="83.00" fill="#fff" stroke="#3e3a36" stroke-width="1.15" />
<line x1="708.50" y1="241.00" x2="708.50" y2="285.75" stroke="#3e3a36" stroke-width="1.15" />
<line x1="710.50" y1="279.75" x2="710.50" y2="324.50" stroke="#3e3a36" stroke-width="1.15" />
<line x1="707.00" y1="282.50" x2="712.25" y2="282.50" stroke="#3e3a36" stroke-width="1.15" />
<rect x="1155.50" y="133.50" width="8.00" height="84.00" fill="#fff" stroke="#3e3a36" stroke-width="1.15" />
<line x1="1158.50" y1="133.00" x2="1158.50" y2="178.25" stroke="#3e3a36" stroke-width="1.15" />
<line x1="1160.50" y1="172.25" x2="1160.50" y2="217.50" stroke="#3e3a36" stroke-width="1.15" />
<line x1="1157.00" y1="175.50" x2="1162.25" y2="175.50" stroke="#3e3a36" stroke-width="1.15" />
<rect x="1155.50" y="241.50" width="8.00" height="87.00" fill="#fff" stroke="#3e3a36" stroke-width="1.15" />
<line x1="1158.50" y1="241.00" x2="1158.50" y2="287.85" stroke="#3e3a36" stroke-width="1.15" />
<line x1="1160.50" y1="281.85" x2="1160.50" y2="328.70" stroke="#3e3a36" stroke-width="1.15" />
<line x1="1157.00" y1="284.50" x2="1162.25" y2="284.50" stroke="#3e3a36" stroke-width="1.15" />
<path d="M855.5 170 L817.5 170 A38 38 0 0 1 855.5 132" fill="none" stroke="#3e3a36" stroke-width="1.15" />
<path d="M852 232.75 L852 270.5 A38 38 0 0 1 814 232.75" fill="none" stroke="#3e3a36" stroke-width="1.15" />
<path d="M917.5 232.75 L917.5 270.5 A38 38 0 0 0 955.5 232.75" fill="none" stroke="#3e3a36" stroke-width="1.15" />
<path d="M963.75 135.3 L1001.5 135.3 A38 39.5 0 0 1 963.75 174.5" fill="none" stroke="#3e3a36" stroke-width="1.15" />
<path d="M813.6 186.8 L843.2 186.8 A29.5 29.5 0 0 1 813.6 216.2" fill="none" stroke="#3e3a36" stroke-width="1.15" />
<path d="M1014.00 84.60 L1014.00 99.40 L1028.00 92.00 Z" fill="#fff" stroke="#3e3a36" stroke-width="1.15" />
<path d="M1014.00 208.50 L1014.00 223.60 L1027.70 216.00 Z" fill="#fff" stroke="#3e3a36" stroke-width="1.15" />
<path d="M855.30 233.80 L855.30 248.80 L841.40 241.30 Z" fill="#fff" stroke="#3e3a36" stroke-width="1.15" />
<path d="M914.00 284.00 L914.00 299.40 L928.00 291.60 Z" fill="#fff" stroke="#3e3a36" stroke-width="1.15" />
<path d="M914.00 358.80 L914.00 373.80 L928.00 366.20 Z" fill="#fff" stroke="#3e3a36" stroke-width="1.15" />
<line x1="730.50" y1="183.00" x2="730.50" y2="224.40" stroke="#3e3a36" stroke-width="1.15" />
<line x1="730.30" y1="183.00" x2="713.90" y2="224.40" stroke="#3e3a36" stroke-width="1.15" />
<path d="M742.30 193.30 L758.30 193.30 C766.30 193.30 771.20 197.60 771.20 203.65 C771.20 209.70 766.30 214.00 758.30 214.00 L742.30 214.00 Z" fill="#deeffa" stroke="#3e3a36" stroke-width="1.15" />
<path d="M751.30 193.30 L749.80 196.90 L747.70 196.90 L747.70 210.40 L749.80 210.40 L751.30 214.00" fill="none" stroke="#3e3a36" stroke-width="1.15" />
<rect x="730.50" y="193.50" width="9.00" height="22.00" fill="#deeffa" stroke="#3e3a36" stroke-width="1.15" />
<path d="M788.8 178.4 L801.4 178.4 L801.4 195.3 L798.5 195.3 A9.7 9.5 0 0 1 788.8 186 Z" fill="#fff" stroke="#3e3a36" stroke-width="1.15" />
<rect x="789.30" y="178.90" width="11.60" height="2.90" fill="#f3edaa" />
<text class="lat" x="790.00" y="203.00" font-size="14" text-anchor="middle" fill="#2b2523" stroke="#2b2523" stroke-width="0.25" textLength="25.50" lengthAdjust="spacingAndGlyphs" transform="rotate(-90 790.00 203.00)" >Lav.</text>
<path d="M863.75 128.7 L905.5 128.7 L905.5 124.6 L955.5 124.6" fill="none" stroke="#3e3a36" stroke-width="1.15" />
<path d="M905.5 128.7 L905.5 132.7 L955.5 132.7" fill="none" stroke="#3e3a36" stroke-width="1.15" />
<line x1="909.50" y1="83.00" x2="909.50" y2="124.60" stroke="#3e3a36" stroke-width="1.15" />
<line x1="922.50" y1="83.00" x2="922.50" y2="124.60" stroke="#3e3a36" stroke-width="1.15" />
<line x1="935.50" y1="83.00" x2="935.50" y2="124.60" stroke="#3e3a36" stroke-width="1.15" />
<path d="M949.7 83 L946.2 97.2 L937 103 L951.4 105 L943.7 111.2 L941 124.6" fill="none" stroke="#3e3a36" stroke-width="1.15" />
<path d="M937 103 L926.2 98 L923 106" fill="none" stroke="#3e3a36" stroke-width="1.15" />
<path d="M884.5 128.7 L884.5 103.6 L937 103.6" fill="none" stroke="#3e3a36" stroke-width="1.15" />
<line x1="905.70" y1="124.60" x2="882.80" y2="83.00" stroke="#3e3a36" stroke-width="1.15" />
<line x1="905.30" y1="128.50" x2="863.75" y2="102.40" stroke="#3e3a36" stroke-width="1.15" />
<line x1="717" y1="112.5" x2="749" y2="112.5" stroke="#332e2a" stroke-width="1" stroke-dasharray="1 1"/>
<line x1="717" y1="162.5" x2="749" y2="162.5" stroke="#332e2a" stroke-width="1" stroke-dasharray="1 1"/>
<line x1="717.5" y1="112" x2="717.5" y2="163" stroke="#332e2a" stroke-width="1" stroke-dasharray="1 1"/>
<line x1="748.5" y1="112" x2="748.5" y2="163" stroke="#332e2a" stroke-width="1" stroke-dasharray="1 1"/>
<line x1="752" y1="115.5" x2="777" y2="115.5" stroke="#332e2a" stroke-width="1" stroke-dasharray="1 1"/>
<line x1="752" y1="137.5" x2="777" y2="137.5" stroke="#332e2a" stroke-width="1" stroke-dasharray="1 1"/>
<line x1="752.5" y1="115" x2="752.5" y2="138" stroke="#332e2a" stroke-width="1" stroke-dasharray="1 1"/>
<line x1="776.5" y1="115" x2="776.5" y2="138" stroke="#332e2a" stroke-width="1" stroke-dasharray="1 1"/>
<line x1="754" y1="117.5" x2="775" y2="117.5" stroke="#332e2a" stroke-width="1" stroke-dasharray="1 1"/>
<line x1="754" y1="137.5" x2="775" y2="137.5" stroke="#332e2a" stroke-width="1" stroke-dasharray="1 1"/>
<line x1="754.5" y1="117" x2="754.5" y2="138" stroke="#332e2a" stroke-width="1" stroke-dasharray="1 1"/>
<line x1="774.5" y1="117" x2="774.5" y2="138" stroke="#332e2a" stroke-width="1" stroke-dasharray="1 1"/>
<line x1="717" y1="249.5" x2="749" y2="249.5" stroke="#332e2a" stroke-width="1" stroke-dasharray="1 1"/>
<line x1="717" y1="299.5" x2="749" y2="299.5" stroke="#332e2a" stroke-width="1" stroke-dasharray="1 1"/>
<line x1="717.5" y1="249" x2="717.5" y2="300" stroke="#332e2a" stroke-width="1" stroke-dasharray="1 1"/>
<line x1="748.5" y1="249" x2="748.5" y2="300" stroke="#332e2a" stroke-width="1" stroke-dasharray="1 1"/>
<line x1="752" y1="253.5" x2="777" y2="253.5" stroke="#332e2a" stroke-width="1" stroke-dasharray="1 1"/>
<line x1="752" y1="275.5" x2="777" y2="275.5" stroke="#332e2a" stroke-width="1" stroke-dasharray="1 1"/>
<line x1="752.5" y1="253" x2="752.5" y2="276" stroke="#332e2a" stroke-width="1" stroke-dasharray="1 1"/>
<line x1="776.5" y1="253" x2="776.5" y2="276" stroke="#332e2a" stroke-width="1" stroke-dasharray="1 1"/>
<line x1="754" y1="255.5" x2="775" y2="255.5" stroke="#332e2a" stroke-width="1" stroke-dasharray="1 1"/>
<line x1="754" y1="275.5" x2="775" y2="275.5" stroke="#332e2a" stroke-width="1" stroke-dasharray="1 1"/>
<line x1="754.5" y1="255" x2="754.5" y2="276" stroke="#332e2a" stroke-width="1" stroke-dasharray="1 1"/>
<line x1="774.5" y1="255" x2="774.5" y2="276" stroke="#332e2a" stroke-width="1" stroke-dasharray="1 1"/>
<line x1="720" y1="319.5" x2="825" y2="319.5" stroke="#332e2a" stroke-width="1" stroke-dasharray="1 1"/>
<line x1="720" y1="370.5" x2="825" y2="370.5" stroke="#332e2a" stroke-width="1" stroke-dasharray="1 1"/>
<line x1="717.5" y1="322" x2="717.5" y2="368" stroke="#332e2a" stroke-width="1" stroke-dasharray="1 1"/>
<line x1="827.5" y1="322" x2="827.5" y2="368" stroke="#332e2a" stroke-width="1" stroke-dasharray="1 1"/>
<path d="M717.5 322 A2.5 2.5 0 0 1 720 319.5 M825 319.5 A2.5 2.5 0 0 1 827.5 322 M827.5 368 A2.5 2.5 0 0 1 825 370.5 M720 370.5 A2.5 2.5 0 0 1 717.5 368" fill="none" stroke="#332e2a" stroke-width="1" stroke-dasharray="1 1"/>
<line x1="736.5" y1="319" x2="736.5" y2="371" stroke="#332e2a" stroke-width="1" stroke-dasharray="1 1"/>
<line x1="723" y1="332.5" x2="731" y2="332.5" stroke="#332e2a" stroke-width="1" stroke-dasharray="1 1"/>
<line x1="723" y1="357.5" x2="731" y2="357.5" stroke="#332e2a" stroke-width="1" stroke-dasharray="1 1"/>
<line x1="720.5" y1="335" x2="720.5" y2="355" stroke="#332e2a" stroke-width="1" stroke-dasharray="1 1"/>
<line x1="733.5" y1="335" x2="733.5" y2="355" stroke="#332e2a" stroke-width="1" stroke-dasharray="1 1"/>
<path d="M720.5 335 A2.5 2.5 0 0 1 723 332.5 M731 332.5 A2.5 2.5 0 0 1 733.5 335 M733.5 355 A2.5 2.5 0 0 1 731 357.5 M723 357.5 A2.5 2.5 0 0 1 720.5 355" fill="none" stroke="#332e2a" stroke-width="1" stroke-dasharray="1 1"/>
<path d="M736 350 L750.5 343.7 L755 370.5 Z" fill="none" stroke="#332e2a" stroke-width="1.3" stroke-dasharray="1 1"/>
<line x1="1045" y1="87.5" x2="1150" y2="87.5" stroke="#332e2a" stroke-width="1" stroke-dasharray="1 1"/>
<line x1="1045" y1="138.5" x2="1150" y2="138.5" stroke="#332e2a" stroke-width="1" stroke-dasharray="1 1"/>
<line x1="1042.5" y1="90" x2="1042.5" y2="136" stroke="#332e2a" stroke-width="1" stroke-dasharray="1 1"/>
<line x1="1152.5" y1="90" x2="1152.5" y2="136" stroke="#332e2a" stroke-width="1" stroke-dasharray="1 1"/>
<path d="M1042.5 90 A2.5 2.5 0 0 1 1045 87.5 M1150 87.5 A2.5 2.5 0 0 1 1152.5 90 M1152.5 136 A2.5 2.5 0 0 1 1150 138.5 M1045 138.5 A2.5 2.5 0 0 1 1042.5 136" fill="none" stroke="#332e2a" stroke-width="1" stroke-dasharray="1 1"/>
<line x1="1133.5" y1="87" x2="1133.5" y2="139" stroke="#332e2a" stroke-width="1" stroke-dasharray="1 1"/>
<line x1="1138" y1="100.5" x2="1147" y2="100.5" stroke="#332e2a" stroke-width="1" stroke-dasharray="1 1"/>
<line x1="1138" y1="124.5" x2="1147" y2="124.5" stroke="#332e2a" stroke-width="1" stroke-dasharray="1 1"/>
<line x1="1135.5" y1="103" x2="1135.5" y2="122" stroke="#332e2a" stroke-width="1" stroke-dasharray="1 1"/>
<line x1="1149.5" y1="103" x2="1149.5" y2="122" stroke="#332e2a" stroke-width="1" stroke-dasharray="1 1"/>
<path d="M1135.5 103 A2.5 2.5 0 0 1 1138 100.5 M1147 100.5 A2.5 2.5 0 0 1 1149.5 103 M1149.5 122 A2.5 2.5 0 0 1 1147 124.5 M1138 124.5 A2.5 2.5 0 0 1 1135.5 122" fill="none" stroke="#332e2a" stroke-width="1" stroke-dasharray="1 1"/>
<path d="M1133.7 107 L1118.7 113 L1114 87.5 Z" fill="none" stroke="#332e2a" stroke-width="1.3" stroke-dasharray="1 1"/>
<line x1="1059" y1="189.5" x2="1111" y2="189.5" stroke="#332e2a" stroke-width="1" stroke-dasharray="1 1"/>
<line x1="1059" y1="220.5" x2="1111" y2="220.5" stroke="#332e2a" stroke-width="1" stroke-dasharray="1 1"/>
<line x1="1059.5" y1="189" x2="1059.5" y2="221" stroke="#332e2a" stroke-width="1" stroke-dasharray="1 1"/>
<line x1="1110.5" y1="189" x2="1110.5" y2="221" stroke="#332e2a" stroke-width="1" stroke-dasharray="1 1"/>
<line x1="1063" y1="162.5" x2="1087" y2="162.5" stroke="#332e2a" stroke-width="1" stroke-dasharray="1 1"/>
<line x1="1063" y1="185.5" x2="1087" y2="185.5" stroke="#332e2a" stroke-width="1" stroke-dasharray="1 1"/>
<line x1="1063.5" y1="162" x2="1063.5" y2="186" stroke="#332e2a" stroke-width="1" stroke-dasharray="1 1"/>
<line x1="1086.5" y1="162" x2="1086.5" y2="186" stroke="#332e2a" stroke-width="1" stroke-dasharray="1 1"/>
<line x1="1064" y1="164.5" x2="1085" y2="164.5" stroke="#332e2a" stroke-width="1" stroke-dasharray="1 1"/>
<line x1="1064" y1="185.5" x2="1085" y2="185.5" stroke="#332e2a" stroke-width="1" stroke-dasharray="1 1"/>
<line x1="1064.5" y1="164" x2="1064.5" y2="186" stroke="#332e2a" stroke-width="1" stroke-dasharray="1 1"/>
<line x1="1084.5" y1="164" x2="1084.5" y2="186" stroke="#332e2a" stroke-width="1" stroke-dasharray="1 1"/>
<line x1="1012" y1="259.5" x2="1101" y2="259.5" stroke="#332e2a" stroke-width="1" stroke-dasharray="1 1"/>
<line x1="1012" y1="370.5" x2="1101" y2="370.5" stroke="#332e2a" stroke-width="1" stroke-dasharray="1 1"/>
<line x1="1009.5" y1="262" x2="1009.5" y2="368" stroke="#332e2a" stroke-width="1" stroke-dasharray="1 1"/>
<line x1="1103.5" y1="262" x2="1103.5" y2="368" stroke="#332e2a" stroke-width="1" stroke-dasharray="1 1"/>
<path d="M1009.5 262 A2.5 2.5 0 0 1 1012 259.5 M1101 259.5 A2.5 2.5 0 0 1 1103.5 262 M1103.5 368 A2.5 2.5 0 0 1 1101 370.5 M1012 370.5 A2.5 2.5 0 0 1 1009.5 368" fill="none" stroke="#332e2a" stroke-width="1" stroke-dasharray="1 1"/>
<line x1="1009" y1="352.5" x2="1104" y2="352.5" stroke="#332e2a" stroke-width="1" stroke-dasharray="1 1"/>
<line x1="1027" y1="354.5" x2="1047" y2="354.5" stroke="#332e2a" stroke-width="1" stroke-dasharray="1 1"/>
<line x1="1027" y1="368.5" x2="1047" y2="368.5" stroke="#332e2a" stroke-width="1" stroke-dasharray="1 1"/>
<line x1="1024.5" y1="357" x2="1024.5" y2="366" stroke="#332e2a" stroke-width="1" stroke-dasharray="1 1"/>
<line x1="1049.5" y1="357" x2="1049.5" y2="366" stroke="#332e2a" stroke-width="1" stroke-dasharray="1 1"/>
<path d="M1024.5 357 A2.5 2.5 0 0 1 1027 354.5 M1047 354.5 A2.5 2.5 0 0 1 1049.5 357 M1049.5 366 A2.5 2.5 0 0 1 1047 368.5 M1027 368.5 A2.5 2.5 0 0 1 1024.5 366" fill="none" stroke="#332e2a" stroke-width="1" stroke-dasharray="1 1"/>
<line x1="1068" y1="354.5" x2="1088" y2="354.5" stroke="#332e2a" stroke-width="1" stroke-dasharray="1 1"/>
<line x1="1068" y1="368.5" x2="1088" y2="368.5" stroke="#332e2a" stroke-width="1" stroke-dasharray="1 1"/>
<line x1="1065.5" y1="357" x2="1065.5" y2="366" stroke="#332e2a" stroke-width="1" stroke-dasharray="1 1"/>
<line x1="1090.5" y1="357" x2="1090.5" y2="366" stroke="#332e2a" stroke-width="1" stroke-dasharray="1 1"/>
<path d="M1065.5 357 A2.5 2.5 0 0 1 1068 354.5 M1088 354.5 A2.5 2.5 0 0 1 1090.5 357 M1090.5 366 A2.5 2.5 0 0 1 1088 368.5 M1068 368.5 A2.5 2.5 0 0 1 1065.5 366" fill="none" stroke="#332e2a" stroke-width="1" stroke-dasharray="1 1"/>
<path d="M1009.5 332.5 L1036 337.5 L1030 351 Z" fill="none" stroke="#332e2a" stroke-width="1.3" stroke-dasharray="1 1"/>
<text class="lat" x="784.80" y="115.00" font-size="19.5" text-anchor="middle" fill="#2b2523" stroke="#2b2523" stroke-width="0.45" textLength="75.00" lengthAdjust="spacingAndGlyphs" >Telework</text>
<text class="lat" x="784.50" y="135.50" font-size="19.5" text-anchor="middle" fill="#2b2523" stroke="#2b2523" stroke-width="0.45" textLength="47.00" lengthAdjust="spacingAndGlyphs" >Room</text>
<text class="lat" x="784.50" y="157.00" font-size="19.5" text-anchor="middle" fill="#2b2523" stroke="#2b2523" stroke-width="0.45" textLength="19.00" lengthAdjust="spacingAndGlyphs" >3J</text>
<text class="lat" x="784.50" y="290.50" font-size="19.5" text-anchor="middle" fill="#2b2523" stroke="#2b2523" stroke-width="0.45" textLength="33.00" lengthAdjust="spacingAndGlyphs" >Bed</text>
<text class="lat" x="784.50" y="311.50" font-size="19.5" text-anchor="middle" fill="#2b2523" stroke="#2b2523" stroke-width="0.45" textLength="47.00" lengthAdjust="spacingAndGlyphs" >Room</text>
<text class="lat" x="785.00" y="331.50" font-size="19.5" text-anchor="middle" fill="#2b2523" stroke="#2b2523" stroke-width="0.45" textLength="34.00" lengthAdjust="spacingAndGlyphs" >4.5J</text>
<text class="lat" x="1085.00" y="140.00" font-size="19.5" text-anchor="middle" fill="#2b2523" stroke="#2b2523" stroke-width="0.45" textLength="33.00" lengthAdjust="spacingAndGlyphs" >Bed</text>
<text class="lat" x="1084.50" y="160.50" font-size="19.5" text-anchor="middle" fill="#2b2523" stroke="#2b2523" stroke-width="0.45" textLength="47.00" lengthAdjust="spacingAndGlyphs" >Room</text>
<text class="lat" x="1085.00" y="181.50" font-size="19.5" text-anchor="middle" fill="#2b2523" stroke="#2b2523" stroke-width="0.45" textLength="19.00" lengthAdjust="spacingAndGlyphs" >5J</text>
<text class="lat" x="1034.20" y="290.50" font-size="19.5" text-anchor="middle" fill="#2b2523" stroke="#2b2523" stroke-width="0.45" textLength="59.00" lengthAdjust="spacingAndGlyphs" >Master</text>
<text class="lat" x="1034.20" y="311.00" font-size="19.5" text-anchor="middle" fill="#2b2523" stroke="#2b2523" stroke-width="0.45" textLength="86.00" lengthAdjust="spacingAndGlyphs" >Bed Room</text>
<text class="lat" x="1035.00" y="331.50" font-size="19.5" text-anchor="middle" fill="#2b2523" stroke="#2b2523" stroke-width="0.45" textLength="34.00" lengthAdjust="spacingAndGlyphs" >7.5J</text>
<text class="lat" x="984.60" y="102.00" font-size="13.5" text-anchor="middle" fill="#2b2523" stroke="#2b2523" stroke-width="0.25" textLength="19.00" lengthAdjust="spacingAndGlyphs" >Clo</text>
<text class="lat" x="984.60" y="117.00" font-size="13.5" text-anchor="middle" fill="#2b2523" stroke="#2b2523" stroke-width="0.25" textLength="17.50" lengthAdjust="spacingAndGlyphs" >set</text>
<text class="lat" x="984.60" y="202.00" font-size="13.5" text-anchor="middle" fill="#2b2523" stroke="#2b2523" stroke-width="0.25" textLength="19.00" lengthAdjust="spacingAndGlyphs" >Clo</text>
<text class="lat" x="984.60" y="217.00" font-size="13.5" text-anchor="middle" fill="#2b2523" stroke="#2b2523" stroke-width="0.25" textLength="17.50" lengthAdjust="spacingAndGlyphs" >set</text>
<text class="lat" x="884.60" y="252.00" font-size="13.5" text-anchor="middle" fill="#2b2523" stroke="#2b2523" stroke-width="0.25" textLength="19.00" lengthAdjust="spacingAndGlyphs" >Clo</text>
<text class="lat" x="884.60" y="267.00" font-size="13.5" text-anchor="middle" fill="#2b2523" stroke="#2b2523" stroke-width="0.25" textLength="17.50" lengthAdjust="spacingAndGlyphs" >set</text>
<text class="lat" x="889.50" y="328.80" font-size="13.5" text-anchor="middle" fill="#2b2523" stroke="#2b2523" stroke-width="0.25" textLength="37.50" lengthAdjust="spacingAndGlyphs" transform="rotate(-90 889.50 328.80)" >Closet</text>
<text class="lat" x="885.00" y="145.00" font-size="13.5" text-anchor="middle" fill="#2b2523" stroke="#2b2523" stroke-width="0.25" textLength="19.00" lengthAdjust="spacingAndGlyphs" >DN</text>
<text class="lat" x="909.80" y="184.00" font-size="13.5" text-anchor="middle" fill="#2b2523" stroke="#2b2523" stroke-width="0.25" textLength="21.50" lengthAdjust="spacingAndGlyphs" >Hall</text>
<text class="lat" x="1209.30" y="232.20" font-size="13" text-anchor="middle" fill="#2b2523" stroke="#2b2523" stroke-width="0.25" textLength="46.50" lengthAdjust="spacingAndGlyphs" >Balcony</text>
<text class="jp" font-size="19" font-weight="500" text-anchor="middle" fill="#2b2018" transform="translate(568.00 40.00) scale(1 1)" textLength="76.00" lengthAdjust="spacingAndGlyphs">心安らぐ</text>
<text class="jp" font-size="19" font-weight="500" text-anchor="middle" fill="#2b2018" transform="translate(568.00 60.30) scale(1 1)" textLength="76.00" lengthAdjust="spacingAndGlyphs">畳の部屋</text>
<text class="jp" font-size="19" font-weight="500" text-anchor="middle" fill="#2b2018" transform="translate(785.20 53.00) scale(1 1)" textLength="116.00" lengthAdjust="spacingAndGlyphs">あると便利な</text>
<text class="jp" font-size="19" font-weight="500" text-anchor="middle" fill="#2b2018" transform="translate(784.20 72.30) scale(1 1)" textLength="153.50" lengthAdjust="spacingAndGlyphs">テレワークルーム</text>
<text class="jp" font-size="18" font-weight="700" text-anchor="middle" fill="#2b2018" transform="translate(317.40 410.60) scale(1 1)" textLength="71.00" lengthAdjust="spacingAndGlyphs">会話が弾む</text>
<text class="jp" font-size="18" font-weight="700" text-anchor="middle" fill="#2b2018" transform="translate(317.50 429.60) scale(1 1)" textLength="100.00" lengthAdjust="spacingAndGlyphs">対面式キッチン</text>
<text class="jp" style="writing-mode:vertical-rl" font-size="19.5" font-weight="500" stroke="#2b2018" stroke-width="0.12" letter-spacing="0.433" fill="#2b2018" transform="translate(68.00 85.52) scale(1.06 0.745)">整理整頓しやすい</text>
<text class="jp" style="writing-mode:vertical-rl" font-size="19.5" font-weight="500" stroke="#2b2018" stroke-width="0.12" letter-spacing="0.500" fill="#2b2018" transform="translate(45.20 114.72) scale(1.06 0.745)">玄関収納</text>
<text class="lat" x="534" y="416.3" font-size="27.2" text-anchor="start" textLength="113" lengthAdjust="spacingAndGlyphs" fill="#dde9f7" stroke="#dde9f7" stroke-width="4.2" stroke-linejoin="round" filter="url(#glow)" opacity="0.75">1F 51.84m</text>
<text class="lat" x="534" y="416.3" font-size="27.2" text-anchor="start" textLength="113" lengthAdjust="spacingAndGlyphs" fill="#8298ba" stroke="#7689ae" stroke-width="3.3" stroke-linejoin="round">1F 51.84m</text>
<text class="lat" x="534" y="416.3" font-size="27.2" text-anchor="start" textLength="113" lengthAdjust="spacingAndGlyphs" fill="#fff" stroke="#fff" stroke-width="0.25">1F 51.84m</text>
<text class="lat" x="1133" y="423.7" font-size="27.2" text-anchor="start" textLength="119" lengthAdjust="spacingAndGlyphs" fill="#dde9f7" stroke="#dde9f7" stroke-width="4.2" stroke-linejoin="round" filter="url(#glow)" opacity="0.75">2F 43.74m</text>
<text class="lat" x="1133" y="423.7" font-size="27.2" text-anchor="start" textLength="119" lengthAdjust="spacingAndGlyphs" fill="#8298ba" stroke="#7689ae" stroke-width="3.3" stroke-linejoin="round">2F 43.74m</text>
<text class="lat" x="1133" y="423.7" font-size="27.2" text-anchor="start" textLength="119" lengthAdjust="spacingAndGlyphs" fill="#fff" stroke="#fff" stroke-width="0.25">2F 43.74m</text>
<text class="lat" x="647.8" y="401.2" font-size="10.5" fill="#8298ba" stroke="#8298ba" stroke-width="1.8" stroke-linejoin="round">2</text>
<text class="lat" x="647.8" y="401.2" font-size="10.5" fill="#fff">2</text>
<text class="lat" x="1248.3" y="408.4" font-size="10.5" fill="#8298ba" stroke="#8298ba" stroke-width="1.8" stroke-linejoin="round">2</text>
<text class="lat" x="1248.3" y="408.4" font-size="10.5" fill="#fff">2</text>
</svg>
</body></html>
